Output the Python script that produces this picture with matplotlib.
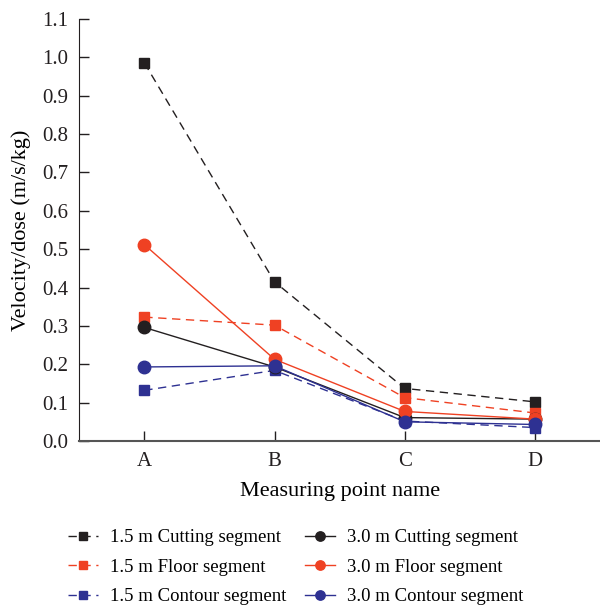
import matplotlib
matplotlib.use("Agg")
import matplotlib.pyplot as plt

plt.rcParams['font.family'] = ['Liberation Serif', 'DejaVu Serif']

points = ["A", "B", "C", "D"]

cut_15 = [0.986, 0.415, 0.137, 0.102]
floor_15 = [0.323, 0.302, 0.113, 0.073]
contour_15 = [0.132, 0.184, 0.052, 0.035]
cut_30 = [0.296, 0.193, 0.061, 0.057]
floor_30 = [0.512, 0.213, 0.077, 0.057]
contour_30 = [0.193, 0.196, 0.050, 0.043]

BLACK = "#231f20"
RED = "#ef4123"
BLUE = "#2e3192"

fig = plt.figure(figsize=(6, 6.08), dpi=100)
ax = fig.add_axes([0.132, 0.2747, 0.868, 0.694])

x = range(len(points))
dash = (0, (6, 4))
ax.plot(x, cut_15, ls=dash, color=BLACK, lw=1, marker="s", ms=7.5, label="1.5 m Cutting segment")
ax.plot(x, floor_15, ls=dash, color=RED, lw=1, marker="s", ms=7.5, label="1.5 m Floor segment")
ax.plot(x, contour_15, ls=dash, color=BLUE, lw=1, marker="s", ms=7.5, label="1.5 m Contour segment")
ax.plot(x, cut_30, ls="-", color=BLACK, lw=1, marker="o", ms=9, label="3.0 m Cutting segment")
ax.plot(x, floor_30, ls="-", color=RED, lw=1, marker="o", ms=9, label="3.0 m Floor segment")
ax.plot(x, contour_30, ls="-", color=BLUE, lw=1, marker="o", ms=9, label="3.0 m Contour segment")

ax.set_xlim(-0.5, 3.5)
ax.set_ylim(0, 1.1)
ax.set_xticks(list(x))
ax.set_xticklabels(points)
ax.set_yticks([i / 10 for i in range(12)])
ax.set_yticklabels(["%.1f" % (i / 10) for i in range(12)])
ax.tick_params(direction="in", length=7, width=1, labelsize=15, colors="#231f20", pad=8)
ax.spines["top"].set_visible(False)
ax.spines["right"].set_visible(False)
ax.spines["left"].set_color("#231f20")
ax.spines["bottom"].set_color("#555555")
ax.spines["bottom"].set_linewidth(1.5)

ax.set_xlabel("Measuring point name", fontsize=16, labelpad=8)
ax.set_ylabel("Velocity/dose (m/s/kg)", fontsize=16, labelpad=8)

ax.legend(loc="upper left", bbox_to_anchor=(68 / 600, 1 - 529 / 608), bbox_transform=fig.transFigure,
          ncol=2, frameon=False, fontsize=13.5, handlelength=1.6, columnspacing=1.0,
          labelspacing=0.66, handletextpad=0.64, markerscale=0.75, borderpad=0, borderaxespad=0)

fig.savefig("out.png", dpi=100)
